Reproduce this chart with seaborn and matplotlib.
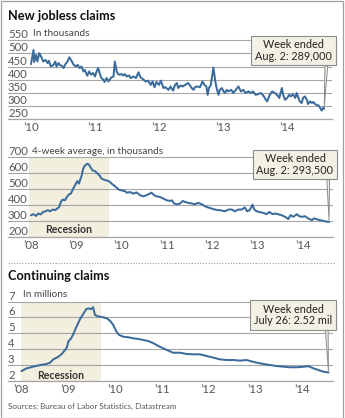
import matplotlib
matplotlib.use("Agg")
import matplotlib.pyplot as plt
import seaborn as sns
from matplotlib.patches import Rectangle
from matplotlib.lines import Line2D

# ---------------- data ----------------
new_claims_t = [2010.00, 2010.04, 2010.05, 2010.08, 2010.10, 2010.13, 2010.17, 2010.19, 2010.23, 2010.26,
                2010.28, 2010.31, 2010.35, 2010.38, 2010.40, 2010.43, 2010.45, 2010.48, 2010.51, 2010.53,
                2010.57, 2010.60, 2010.64, 2010.66, 2010.70, 2010.73, 2010.76, 2010.79, 2010.82, 2010.84,
                2010.88, 2010.91, 2010.94, 2010.97, 2011.00, 2011.03, 2011.05, 2011.08, 2011.10, 2011.13,
                2011.15, 2011.18, 2011.21, 2011.23, 2011.26, 2011.29, 2011.31, 2011.34, 2011.36, 2011.39,
                2011.42, 2011.44, 2011.47, 2011.49, 2011.53, 2011.56, 2011.60, 2011.64, 2011.68, 2011.71,
                2011.76, 2011.79, 2011.83, 2011.87, 2011.90, 2011.93, 2011.96, 2012.00, 2012.03, 2012.07,
                2012.10, 2012.15, 2012.18, 2012.22, 2012.25, 2012.28, 2012.30, 2012.34, 2012.37, 2012.41,
                2012.45, 2012.48, 2012.51, 2012.54, 2012.56, 2012.60, 2012.64, 2012.68, 2012.71, 2012.74,
                2012.76, 2012.78, 2012.81, 2012.85, 2012.88, 2012.90, 2012.93, 2012.95, 2012.98, 2013.01,
                2013.03, 2013.06, 2013.08, 2013.13, 2013.16, 2013.20, 2013.24, 2013.28, 2013.32, 2013.35,
                2013.40, 2013.44, 2013.47, 2013.51, 2013.55, 2013.59, 2013.62, 2013.65, 2013.67, 2013.69,
                2013.73, 2013.77, 2013.81, 2013.85, 2013.88, 2013.92, 2013.94, 2013.97, 2014.01, 2014.03,
                2014.06, 2014.09, 2014.13, 2014.15, 2014.18, 2014.20, 2014.23, 2014.25, 2014.28, 2014.31,
                2014.33, 2014.36, 2014.39, 2014.41, 2014.44, 2014.46, 2014.49, 2014.52, 2014.54, 2014.57,
                2014.58]
new_claims_k = [459, 513, 467, 494, 469, 501, 482, 469, 475, 463,
                472, 450, 456, 469, 450, 463, 456, 453, 444, 456,
                469, 485, 469, 459, 450, 456, 444, 450, 431, 437,
                415, 431, 419, 425, 412, 434, 444, 419, 406, 400,
                391, 406, 393, 400, 409, 412, 469, 431, 421, 419,
                421, 416, 421, 412, 416, 406, 412, 406, 428, 409,
                400, 393, 396, 380, 393, 371, 391, 380, 396, 368,
                371, 361, 374, 358, 380, 387, 368, 378, 374, 380,
                387, 380, 368, 361, 371, 374, 371, 393, 380, 374,
                342, 368, 380, 446, 393, 368, 342, 361, 368, 355,
                349, 361, 355, 361, 349, 361, 374, 355, 361, 349,
                355, 349, 355, 342, 345, 349, 342, 332, 323, 317,
                342, 355, 349, 340, 330, 368, 342, 323, 332, 342,
                336, 345, 330, 349, 330, 317, 311, 330, 336, 323,
                307, 317, 311, 315, 307, 304, 302, 292, 282, 294,
                289]

avg4_t = [2008.00, 2008.05, 2008.11, 2008.16, 2008.21, 2008.27, 2008.32, 2008.37, 2008.42, 2008.48,
          2008.53, 2008.58, 2008.62, 2008.66, 2008.70, 2008.75, 2008.79, 2008.84, 2008.88, 2008.92,
          2008.97, 2009.02, 2009.06, 2009.08, 2009.12, 2009.15, 2009.19, 2009.24, 2009.28, 2009.32,
          2009.36, 2009.41, 2009.46, 2009.51, 2009.56, 2009.61, 2009.67, 2009.72, 2009.78, 2009.83,
          2009.89, 2009.94, 2010.08, 2010.11, 2010.19, 2010.26, 2010.33, 2010.41, 2010.48, 2010.55,
          2010.66, 2010.72, 2010.77, 2010.85, 2010.92, 2011.00, 2011.07, 2011.11, 2011.16, 2011.22,
          2011.29, 2011.35, 2011.40, 2011.47, 2011.55, 2011.62, 2011.69, 2011.77, 2011.84, 2011.91,
          2011.99, 2012.06, 2012.13, 2012.17, 2012.28, 2012.36, 2012.43, 2012.50, 2012.58, 2012.65,
          2012.72, 2012.77, 2012.83, 2012.89, 2012.93, 2012.98, 2013.06, 2013.13, 2013.20, 2013.26,
          2013.33, 2013.40, 2013.47, 2013.53, 2013.61, 2013.68, 2013.73, 2013.79, 2013.87, 2013.92,
          2013.98, 2014.05, 2014.12, 2014.20, 2014.25, 2014.32, 2014.38, 2014.45, 2014.53, 2014.58]
avg4_k = [335, 342, 331, 346, 340, 356, 360, 367, 360, 371,
          367, 377, 387, 419, 434, 429, 450, 467, 471, 496,
          523, 550, 534, 554, 586, 627, 648, 659, 654, 634,
          617, 613, 600, 586, 565, 559, 554, 550, 534, 523,
          509, 496, 486, 477, 481, 471, 479, 461, 454, 461,
          477, 461, 454, 450, 440, 429, 425, 429, 409, 404,
          409, 425, 419, 413, 409, 404, 413, 404, 392, 384,
          377, 371, 367, 367, 360, 371, 371, 360, 371, 371,
          384, 360, 367, 402, 371, 360, 354, 350, 342, 356,
          342, 346, 340, 336, 325, 311, 336, 325, 342, 329,
          325, 329, 315, 304, 315, 309, 304, 300, 294, 293.5]

cont_t = [2008.00, 2008.11, 2008.25, 2008.40, 2008.54, 2008.61, 2008.68, 2008.79, 2008.86, 2008.93,
          2008.97, 2009.00, 2009.06, 2009.11, 2009.16, 2009.21, 2009.26, 2009.32, 2009.38, 2009.43,
          2009.48, 2009.53, 2009.57, 2009.62, 2009.68, 2009.75, 2009.82, 2009.89, 2009.96, 2010.03,
          2010.09, 2010.18, 2010.28, 2010.39, 2010.50, 2010.60, 2010.71, 2010.82, 2010.92, 2011.03,
          2011.14, 2011.24, 2011.39, 2011.53, 2011.67, 2011.81, 2011.96, 2012.10, 2012.24, 2012.38,
          2012.53, 2012.67, 2012.81, 2012.88, 2013.03, 2013.17, 2013.31, 2013.45, 2013.59, 2013.74,
          2013.88, 2014.02, 2014.13, 2014.24, 2014.34, 2014.45, 2014.56]
cont_m = [2.61, 2.78, 2.89, 2.99, 3.06, 3.14, 3.35, 3.52, 3.69, 3.94,
          4.11, 4.47, 4.68, 4.96, 5.32, 5.63, 5.95, 6.22, 6.52, 6.58,
          6.52, 6.65, 6.16, 6.09, 6.05, 6.01, 5.95, 5.80, 5.53, 5.10,
          4.89, 4.78, 4.75, 4.68, 4.64, 4.58, 4.51, 4.37, 4.20, 4.05,
          3.90, 3.77, 3.77, 3.69, 3.67, 3.67, 3.56, 3.46, 3.35, 3.31,
          3.31, 3.27, 3.31, 3.25, 3.14, 3.06, 2.99, 2.93, 2.89, 2.85,
          2.85, 2.88, 2.92, 2.78, 2.68, 2.57, 2.52]

recession_2 = [2007.95, 2009.72]
recession_3 = [2007.98, 2009.69]

years_1 = [2010, 2011, 2012, 2013, 2014]
years_23 = [2008, 2009, 2010, 2011, 2012, 2013, 2014]
year_labels_1 = ["\u201910", "\u201911", "\u201912", "\u201913", "\u201914"]
year_labels_23 = ["\u201908", "\u201909", "\u201910", "\u201911", "\u201912", "\u201913", "\u201914"]
yticks_1 = [250, 300, 350, 400, 450, 500, 550]
yticks_2 = [200, 300, 400, 500, 600, 700]
yticks_3 = [2, 3, 4, 5, 6, 7]

titles = ["New jobless claims", "Continuing claims"]
subtitles = ["In thousands", "4-week average, in thousands", "In millions"]
callouts = ["Week ended\nAug. 2: 289,000", "Week ended\nAug. 2: 293,500", "Week ended\nJuly 26: 2.52 mil"]
source = "Sources: Bureau of Labor Statistics, Datastream"

# ---------------- style ----------------
sns.set_style("white")
NARROW = ["Liberation Sans Narrow", "Lato", "DejaVu Sans"]
plt.rcParams["font.family"] = ["Lato", "DejaVu Sans"]

W, H = 345, 418
DPI = 100
fig = plt.figure(figsize=(W / DPI, H / DPI), dpi=DPI)
fig.patch.set_facecolor("white")

LINE = "#3b6c9c"
GRID = "#a6a6a6"
SHADE = "#f3efdf"
TICKC = "#555555"
BOXFC = "#f3f1e4"
BOXEC = "#8c8c8c"


def px_axes(l, t, r, b):
    return fig.add_axes([l / W, 1 - b / H, (r - l) / W, (b - t) / H])


def style_axes(ax, yticks, xticks, xlabels, ylim, xlim):
    ax.set_xlim(*xlim)
    ax.set_ylim(*ylim)
    for s in ["top", "right", "left"]:
        ax.spines[s].set_visible(False)
    ax.spines["bottom"].set_color(GRID)
    ax.spines["bottom"].set_linewidth(0.9)
    ax.set_yticks(yticks)
    ax.set_yticklabels([str(v) for v in yticks])
    ax.set_xticks(xticks)
    ax.set_xticklabels(xlabels)
    ax.grid(axis="y", color=GRID, linewidth=0.8)
    ax.grid(axis="x", visible=False)
    ax.set_axisbelow(True)
    ax.tick_params(axis="y", length=0, pad=0, labelsize=8.2, labelcolor=TICKC)
    ax.tick_params(axis="x", length=0, pad=2.5, labelsize=8.2, labelcolor=TICKC)
    for lab in ax.get_yticklabels():
        lab.set_ha("left")
        lab.set_va("bottom")
        lab.set_family(NARROW)
    for lab in ax.get_xticklabels():
        lab.set_family(NARROW)
    ax.set_xlabel("")
    ax.set_ylabel("")
    ax.patch.set_alpha(0)


def callout(ax, text, xy, cx, cy):
    ax.annotate(text, xy=xy, xycoords="data", xytext=(cx, H - cy), textcoords="figure pixels",
                ha="center", va="center", fontsize=7.8, color="#222222", linespacing=1.05,
                family=["Lato", "DejaVu Sans"],
                bbox=dict(boxstyle="square,pad=0.33", fc=BOXFC, ec=BOXEC, lw=0.8),
                arrowprops=dict(arrowstyle="wedge,tail_width=0.25,shrink_factor=0.5", fc=BOXFC,
                                ec=BOXEC, lw=0.7, relpos=(0.93, 0.0), shrinkA=0, shrinkB=1),
                zorder=5)


def shade(ax, span, top, ylim):
    frac = (top - ylim[0]) / (ylim[1] - ylim[0])
    ax.axvspan(span[0], span[1], ymin=0, ymax=frac, color=SHADE, lw=0, zorder=0)


# ---------------- panel 1 ----------------
ylim1 = (250, 596.7)
ax1 = px_axes(8, 28, 332, 119)
sns.lineplot(x=new_claims_t, y=new_claims_k, ax=ax1, color=LINE, linewidth=1.45)
style_axes(ax1, yticks_1, years_1, year_labels_1, ylim1, (2009.641, 2014.703))
callout(ax1, callouts[0], (new_claims_t[-1], new_claims_k[-1]), 293.5, 50.5)

# ---------------- panel 2 ----------------
ylim2 = (200, 771)
ax2 = px_axes(8, 146, 333, 236.7)
shade(ax2, recession_2, yticks_2[-1], ylim2)
sns.lineplot(x=avg4_t, y=avg4_k, ax=ax2, color=LINE, linewidth=1.45)
style_axes(ax2, yticks_2, years_23, year_labels_23, ylim2, (2007.492, 2014.667))
ax2.text((recession_2[0] + recession_2[1]) / 2, 248, "Recession", ha="center", va="center",
         fontsize=7.6, fontweight="bold", color="#333333", family=NARROW)
callout(ax2, callouts[1], (avg4_t[-1], avg4_k[-1]), 295, 164.7)

# ---------------- panel 3 ----------------
ylim3 = (2, 7.74)
ax3 = px_axes(8, 290, 333, 380.7)
shade(ax3, recession_3, yticks_3[-1], ylim3)
sns.lineplot(x=cont_t, y=cont_m, ax=ax3, color=LINE, linewidth=1.45)
style_axes(ax3, yticks_3, years_23, year_labels_23, ylim3, (2007.712, 2014.656))
ax3.text((recession_3[0] + recession_3[1]) / 2, 2.36, "Recession", ha="center", va="center",
         fontsize=7.6, fontweight="bold", color="#333333", family=NARROW)
callout(ax3, callouts[2], (cont_t[-1], cont_m[-1]), 293, 315)

# ---------------- texts ----------------
fig.text(8 / W, 1 - 16 / H, titles[0], ha="left", va="center", fontsize=9.2, fontweight="bold",
         color="#111111")
fig.text(8 / W, 1 - 276 / H, titles[1], ha="left", va="center", fontsize=9.2, fontweight="bold",
         color="#111111")
fig.text(33 / W, 1 - 34 / H, subtitles[0], ha="left", va="center", fontsize=7.2, color="#444444")
fig.text(32 / W, 1 - 151 / H, subtitles[1], ha="left", va="center", fontsize=7.2, color="#444444")
fig.text(23 / W, 1 - 294.5 / H, subtitles[2], ha="left", va="center", fontsize=7.2, color="#444444")
fig.text(8 / W, 1 - 406 / H, source, ha="left", va="center", fontsize=5.8, color="#555555",
         family=NARROW)

# dotted separator and frame
fig.add_artist(Line2D([8 / W, 336 / W], [1 - 262.5 / H, 1 - 262.5 / H], transform=fig.transFigure,
                      color="#9a9a9a", lw=0.8, ls=(0, (1, 1.5))))
fig.add_artist(Rectangle((0.5 / W, 0.5 / H), (W - 2.5) / W, (H - 1.5) / H, transform=fig.transFigure,
                         fill=False, ec="#a0a0a0", lw=0.9))

fig.savefig("out.png", dpi=DPI)
